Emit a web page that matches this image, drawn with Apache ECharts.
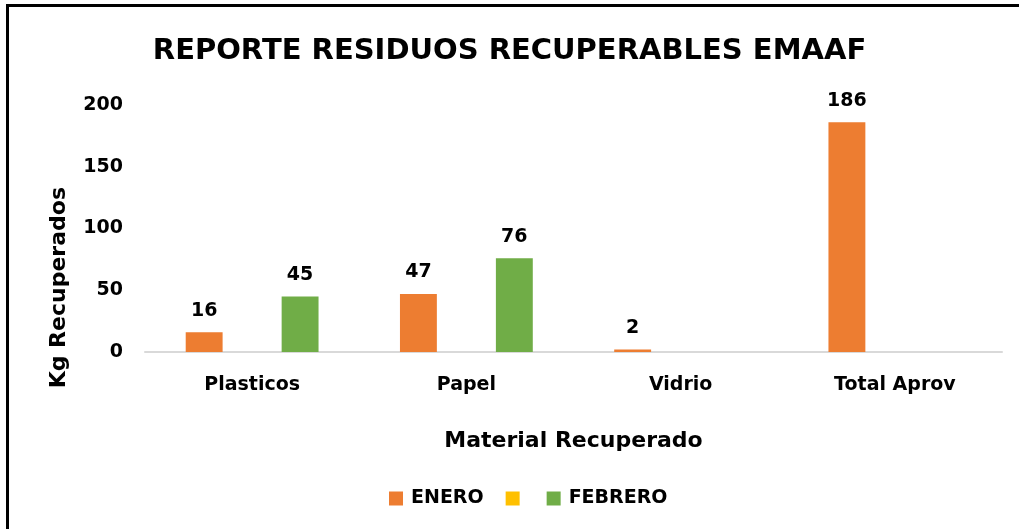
<!DOCTYPE html>
<html>
<head>
<meta charset="utf-8">
<script src="https://cdn.jsdelivr.net/npm/echarts@6/dist/echarts.min.js"></script>
<style>
  html, body { margin: 0; padding: 0; background: #fff; }
  #frame {
    position: absolute; left: 6px; top: 4px; right: 0; bottom: 0;
    border-top: 3px solid #000; border-left: 3px solid #000;
  }
  #main { position: absolute; left: 0; top: 0; width: 1019px; height: 529px; }
</style>
</head>
<body>
<div id="frame"></div>
<div id="main"></div>
<script>
const categories = ['Plasticos', 'Papel', 'Vidrio', 'Total Aprov'];
const enero = [16, 47, 2, 186];
const blanco = [null, null, null, null];
const febrero = [45, 76, null, null];
const yTicks = [0, 50, 100, 150, 200];

const font = '"DejaVu Sans", sans-serif';
const chart = echarts.init(document.getElementById('main'));

function barSeries(name, data, color) {
  return {
    name: name,
    type: 'bar',
    data: data,
    barGap: '30%',
    barCategoryGap: '38%',
    itemStyle: { color: color },
    label: {
      show: true,
      position: 'top',
      distance: 12,
      color: '#000',
      fontFamily: font,
      fontWeight: 'bold',
      fontSize: 19
    }
  };
}

chart.setOption({
  animation: false,
  title: {
    text: 'REPORTE RESIDUOS RECUPERABLES EMAAF',
    left: 'center',
    top: 32,
    textStyle: { fontFamily: font, fontWeight: 'bold', fontSize: 29, color: '#000' }
  },
  legend: {
    data: ['ENERO', { name: '\u200b', textStyle: { padding: 0 } }, 'FEBRERO'],
    top: 484,
    left: 384,
    itemWidth: 14,
    itemHeight: 14,
    itemGap: 22,
    icon: 'rect',
    textStyle: { fontFamily: font, fontWeight: 'bold', fontSize: 19, color: '#000', padding: [0, 0, 0, 3] }
  },
  grid: { left: 145, right: 17, top: 105, bottom: 177 },
  xAxis: {
    type: 'category',
    data: categories,
    name: 'Material Recuperado',
    nameLocation: 'middle',
    nameGap: 78,
    nameTextStyle: { fontFamily: font, fontWeight: 'bold', fontSize: 22, color: '#000' },
    axisLine: { lineStyle: { color: '#d9d9d9', width: 2 } },
    axisTick: { show: false },
    axisLabel: { fontFamily: font, fontWeight: 'bold', fontSize: 19, color: '#000', margin: 24 }
  },
  yAxis: {
    type: 'value',
    min: yTicks[0],
    max: yTicks[yTicks.length - 1],
    interval: 50,
    splitLine: { show: false },
    axisLine: { show: false },
    axisTick: { show: false },
    axisLabel: { fontFamily: font, fontWeight: 'bold', fontSize: 19, color: '#000', margin: 22 }
  },
  graphic: [{
    type: 'text',
    left: 48,
    top: 187,
    rotation: Math.PI / 2,
    style: {
      text: 'Kg Recuperados',
      fontFamily: font,
      fontWeight: 'bold',
      fontSize: 22,
      fill: '#000'
    }
  }],
  series: [
    barSeries('ENERO', enero, '#ED7D31'),
    barSeries('\u200b', blanco, '#FFC000'),
    barSeries('FEBRERO', febrero, '#70AD47')
  ]
});
</script>
</body>
</html>
